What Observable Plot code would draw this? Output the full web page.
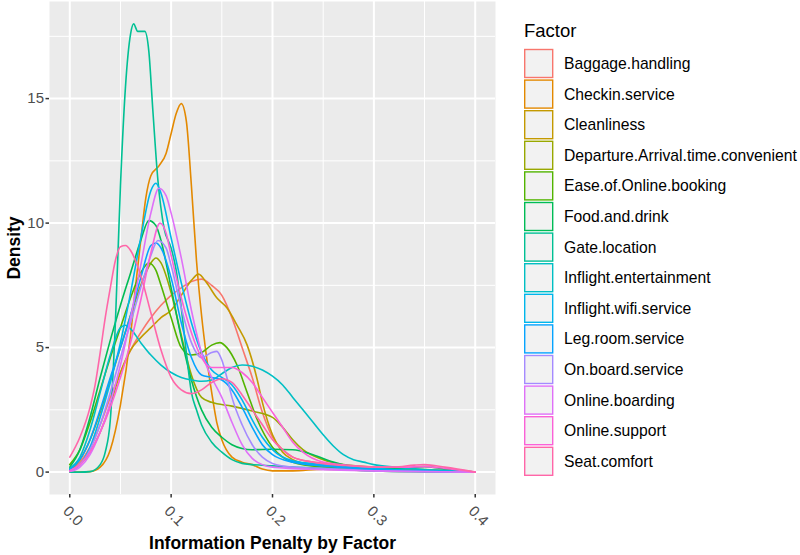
<!DOCTYPE html>
<html><head><meta charset="utf-8">
<script src="https://cdn.jsdelivr.net/npm/d3@7"></script>
<script src="https://cdn.jsdelivr.net/npm/@observablehq/plot@0.6"></script>
<style>
body{margin:0;background:#fff;font-family:"Liberation Sans",Arial,sans-serif;}
#wrap{position:relative;width:800px;height:555px;overflow:hidden;}
#plot{position:absolute;left:0;top:0;}
#legend{position:absolute;left:495px;top:0;}
</style></head><body>
<div id="wrap"><div id="plot"></div><svg id="legend" width="305" height="555"></svg></div>
<script>
const factors = ["Baggage.handling","Checkin.service","Cleanliness","Departure.Arrival.time.convenient","Ease.of.Online.booking","Food.and.drink","Gate.location","Inflight.entertainment","Inflight.wifi.service","Leg.room.service","On.board.service","Online.boarding","Online.support","Seat.comfort"];
const colors = ["#F8766D","#E38900","#C49A00","#99A800","#53B400","#00BC56","#00C094","#00BFC4","#00B6EB","#06A4FF","#A58AFF","#DF70F8","#FB61D7","#FF66A8"];
const xTicks = [0, 0.1, 0.2, 0.3, 0.4];
const xMinor = [0.05, 0.15, 0.25, 0.35];
const yTicks = [0, 5, 10, 15];
const yMinor = [2.5, 7.5, 12.5, 17.5];

// [penalty, density]
const baggage = [[0,0.1],[0.01,0.4],[0.02,1.0],[0.03,1.9],[0.04,3.0],[0.05,4.0],[0.06,4.9],[0.07,5.6],[0.08,6.2],[0.09,6.7],[0.1,7.1],[0.11,7.4],[0.12,7.65],[0.13,7.75],[0.14,7.5],[0.15,7.1],[0.16,6.2],[0.17,5.0],[0.18,3.8],[0.19,2.4],[0.2,1.4],[0.21,0.9],[0.22,0.6],[0.24,0.4],[0.26,0.3],[0.28,0.2],[0.3,0.15],[0.35,0.08],[0.4,0]];
const checkin = [[0,0],[0.02,0.02],[0.03,0.2],[0.04,0.9],[0.05,2.7],[0.06,5.5],[0.065,7.5],[0.07,9.3],[0.075,11.0],[0.08,11.9],[0.088,12.3],[0.095,12.8],[0.1,13.6],[0.105,14.4],[0.11,14.8],[0.115,14.1],[0.12,11.5],[0.125,8.5],[0.13,6.3],[0.135,4.6],[0.14,3.2],[0.145,2.0],[0.15,1.3],[0.16,0.6],[0.17,0.4],[0.18,0.3],[0.19,0.12],[0.2,0.05],[0.22,0.05],[0.25,0.12],[0.28,0.08],[0.3,0.05],[0.35,0.02],[0.4,0]];
const cleanliness = [[0,0.05],[0.01,0.3],[0.02,0.8],[0.03,1.6],[0.04,2.7],[0.05,4.0],[0.06,4.9],[0.07,5.4],[0.08,5.8],[0.09,6.2],[0.1,6.5],[0.11,7.1],[0.12,7.7],[0.127,7.95],[0.135,7.6],[0.145,7.0],[0.155,6.6],[0.165,5.9],[0.175,5.1],[0.185,3.7],[0.19,2.8],[0.2,1.5],[0.21,0.8],[0.22,0.5],[0.23,0.35],[0.25,0.25],[0.3,0.1],[0.35,0.05],[0.4,0]];
const departure = [[0,0.1],[0.01,0.5],[0.02,1.3],[0.03,2.4],[0.04,3.7],[0.05,5.0],[0.06,6.3],[0.07,7.5],[0.08,8.4],[0.085,8.6],[0.09,8.4],[0.1,7.2],[0.11,5.5],[0.12,3.9],[0.13,3.0],[0.14,2.8],[0.16,2.65],[0.18,2.45],[0.2,2.2],[0.21,1.8],[0.22,1.3],[0.23,0.9],[0.25,0.5],[0.27,0.3],[0.3,0.2],[0.35,0.1],[0.4,0]];
const ease = [[0,0.3],[0.01,0.9],[0.02,2.0],[0.03,3.3],[0.04,4.6],[0.05,5.8],[0.06,7.0],[0.07,8.0],[0.078,8.4],[0.085,8.1],[0.09,7.5],[0.1,6.2],[0.11,5.0],[0.12,4.7],[0.13,4.8],[0.14,5.1],[0.148,5.2],[0.155,5.0],[0.165,4.3],[0.175,3.2],[0.185,2.1],[0.2,1.0],[0.21,0.6],[0.22,0.4],[0.25,0.2],[0.3,0.1],[0.35,0.05],[0.4,0]];
const food = [[0,0.2],[0.01,0.9],[0.02,2.2],[0.03,3.8],[0.04,5.3],[0.05,6.7],[0.06,8.0],[0.07,9.3],[0.078,10.1],[0.085,9.9],[0.09,9.3],[0.1,7.4],[0.11,5.4],[0.12,3.7],[0.13,2.5],[0.14,1.8],[0.15,1.4],[0.16,1.1],[0.17,0.95],[0.18,0.9],[0.2,0.92],[0.22,0.9],[0.24,0.7],[0.26,0.4],[0.28,0.2],[0.3,0.12],[0.33,0.15],[0.35,0.22],[0.37,0.12],[0.4,0]];
const gate = [[0,0],[0.01,0],[0.02,0.02],[0.03,0.3],[0.035,0.8],[0.04,2.1],[0.045,6.0],[0.05,11.5],[0.055,15.5],[0.06,17.6],[0.063,18.0],[0.067,17.7],[0.071,17.7],[0.074,17.7],[0.078,16.9],[0.082,14.5],[0.087,11.7],[0.093,9.8],[0.1,9.0],[0.105,8.1],[0.11,6.6],[0.115,4.8],[0.12,3.2],[0.125,2.5],[0.13,1.9],[0.14,1.2],[0.15,0.8],[0.16,0.5],[0.17,0.35],[0.18,0.3],[0.2,0.25],[0.22,0.2],[0.25,0.15],[0.3,0.05],[0.4,0]];
const entertainment = [[0,0.15],[0.01,0.6],[0.02,1.7],[0.03,3.2],[0.04,4.7],[0.05,5.8],[0.055,5.9],[0.06,5.75],[0.07,5.2],[0.08,4.7],[0.09,4.3],[0.1,4.0],[0.11,3.8],[0.12,3.7],[0.13,3.65],[0.14,3.7],[0.15,3.95],[0.16,4.2],[0.17,4.3],[0.18,4.25],[0.19,4.1],[0.2,3.85],[0.21,3.5],[0.22,3.0],[0.23,2.5],[0.24,2.0],[0.25,1.5],[0.26,1.05],[0.27,0.7],[0.28,0.5],[0.29,0.4],[0.3,0.3],[0.32,0.2],[0.35,0.1],[0.38,0.05],[0.4,0]];
const wifi = [[0,0.05],[0.01,0.3],[0.02,1.0],[0.03,2.2],[0.04,3.6],[0.05,5.2],[0.06,7.2],[0.07,9.4],[0.08,11.3],[0.085,11.6],[0.09,11.2],[0.1,9.4],[0.11,7.6],[0.12,6.0],[0.13,4.8],[0.14,4.1],[0.15,3.8],[0.16,3.5],[0.17,2.9],[0.18,2.1],[0.19,1.4],[0.2,0.9],[0.22,0.45],[0.25,0.3],[0.3,0.15],[0.35,0.05],[0.4,0]];
const legroom = [[0,0.1],[0.01,0.5],[0.02,1.3],[0.03,2.5],[0.04,3.8],[0.05,5.0],[0.06,6.3],[0.07,7.8],[0.08,9.1],[0.085,9.2],[0.09,9.0],[0.1,7.8],[0.11,6.0],[0.12,4.6],[0.13,3.9],[0.14,3.8],[0.15,3.7],[0.16,3.3],[0.17,2.6],[0.18,1.8],[0.19,1.1],[0.2,0.7],[0.22,0.4],[0.25,0.25],[0.3,0.1],[0.4,0]];
const onboard = [[0,0.05],[0.01,0.3],[0.02,0.9],[0.03,1.9],[0.04,3.2],[0.05,4.6],[0.06,6.0],[0.07,7.4],[0.08,8.7],[0.087,9.3],[0.095,9.0],[0.1,8.3],[0.11,6.6],[0.12,5.2],[0.13,4.6],[0.14,4.8],[0.145,4.85],[0.15,4.5],[0.155,3.8],[0.16,3.0],[0.17,1.9],[0.18,1.1],[0.19,0.6],[0.2,0.35],[0.22,0.2],[0.25,0.15],[0.3,0.05],[0.4,0]];
const boarding = [[0,0.02],[0.01,0.2],[0.02,0.7],[0.03,1.6],[0.04,2.8],[0.05,4.3],[0.06,6.2],[0.07,8.3],[0.08,10.4],[0.088,11.4],[0.095,11.1],[0.1,10.4],[0.11,8.6],[0.12,6.5],[0.13,4.8],[0.14,3.8],[0.15,3.0],[0.16,2.0],[0.17,1.1],[0.18,0.55],[0.19,0.3],[0.2,0.2],[0.25,0.1],[0.3,0.05],[0.4,0]];
const support = [[0,0.05],[0.01,0.3],[0.02,0.8],[0.03,1.6],[0.04,2.6],[0.05,3.8],[0.06,5.2],[0.07,6.9],[0.08,8.8],[0.089,10.0],[0.095,9.6],[0.1,8.7],[0.11,7.0],[0.12,5.6],[0.13,4.6],[0.14,4.2],[0.15,4.2],[0.16,4.2],[0.17,4.0],[0.18,3.6],[0.19,3.0],[0.2,2.4],[0.21,1.8],[0.22,1.2],[0.23,0.8],[0.25,0.4],[0.28,0.25],[0.3,0.2],[0.33,0.2],[0.35,0.22],[0.37,0.15],[0.4,0]];
const seat = [[0,0.6],[0.01,1.4],[0.02,2.6],[0.025,3.5],[0.03,4.8],[0.035,6.2],[0.04,7.4],[0.045,8.5],[0.05,9.05],[0.055,9.1],[0.06,8.9],[0.07,7.9],[0.08,6.4],[0.09,4.9],[0.1,3.8],[0.11,3.3],[0.12,3.15],[0.13,3.3],[0.14,3.6],[0.15,3.75],[0.16,3.6],[0.17,3.1],[0.18,2.5],[0.19,1.9],[0.2,1.3],[0.21,0.9],[0.22,0.6],[0.24,0.4],[0.26,0.3],[0.28,0.25],[0.3,0.2],[0.32,0.2],[0.34,0.28],[0.35,0.3],[0.37,0.2],[0.4,0]];

const series = [baggage, checkin, cleanliness, departure, ease, food, gate, entertainment, wifi, legroom, onboard, boarding, support, seat];
const data = factors.flatMap((f, i) => series[i].map(([x, y]) => ({factor: f, x, y})));
const font = '"Liberation Sans", Arial, sans-serif';

const chart = Plot.plot({
  width: 500, height: 555,
  marginLeft: 49, marginRight: 5, marginTop: 1, marginBottom: 61,
  style: {fontFamily: font, fontSize: "15px", background: "white", overflow: "visible"},
  x: {domain: [-0.02, 0.42]},
  y: {domain: [-0.9, 18.9]},
  color: {domain: factors, range: colors},
  marks: [
    Plot.frame({fill: "#EBEBEB", stroke: null}),
    Plot.gridX(xMinor, {stroke: "white", strokeOpacity: 1, strokeWidth: 1}),
    Plot.gridY(yMinor, {stroke: "white", strokeOpacity: 1, strokeWidth: 1}),
    Plot.gridX(xTicks, {stroke: "white", strokeOpacity: 1, strokeWidth: 2}),
    Plot.gridY(yTicks, {stroke: "white", strokeOpacity: 1, strokeWidth: 2}),
    Plot.line(data, {x: "x", y: "y", z: "factor", stroke: "factor", strokeWidth: 1.6, curve: "monotone-x"}),
    Plot.axisY(yTicks, {tickSize: 3.5, tickPadding: 2, stroke: "#333", strokeWidth: 1.5, fill: "#4D4D4D", fontSize: 15, label: null}),
    Plot.axisX(xTicks, {tickSize: 3.5, tickFormat: () => "", stroke: "#333", strokeWidth: 1.5, label: null}),
    Plot.text(xTicks, {x: d => d, frameAnchor: "bottom", text: d => d3.format(".1f")(d), rotate: 45, textAnchor: "start", lineAnchor: "top", dy: 10, fontSize: 15, fill: "#4D4D4D"}),
    Plot.text(["Information Penalty by Factor"], {frameAnchor: "bottom", dy: 54, textAnchor: "middle", lineAnchor: "bottom", fontWeight: "bold", fontSize: 17.5, fill: "black"}),
    Plot.text(["Density"], {frameAnchor: "left", dx: -30, rotate: -90, textAnchor: "middle", lineAnchor: "bottom", fontWeight: "bold", fontSize: 17.5, fill: "black"})
  ]
});
document.getElementById("plot").appendChild(chart);

// legend
const lg = d3.select("#legend");
lg.append("text").attr("x", 29).attr("y", 37).attr("font-size", 18.5).attr("fill", "black")
  .style("font-family", font).text("Factor");
factors.forEach((f, i) => {
  const y0 = 49.5 + i * 30.6;
  lg.append("rect").attr("x", 29.7).attr("y", y0).attr("width", 28).attr("height", 28)
    .attr("fill", "#F2F2F2").attr("stroke", colors[i]).attr("stroke-width", 1.4);
  lg.append("text").attr("x", 69).attr("y", y0 + 14).attr("dy", "0.35em")
    .attr("font-size", 15.7).attr("fill", "black")
    .style("font-family", font).text(f);
});
</script>
</body></html>
